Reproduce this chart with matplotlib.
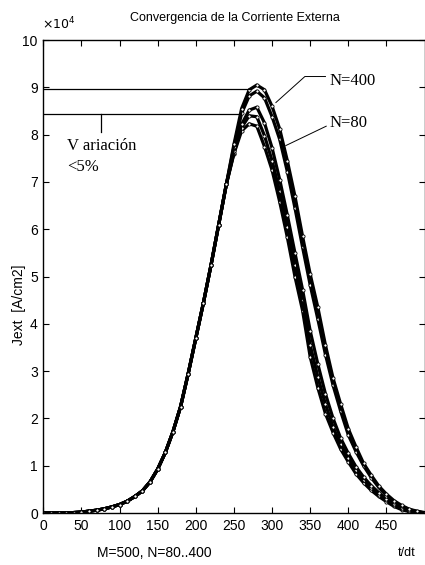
import numpy as np
import matplotlib
matplotlib.use('Agg')
import matplotlib.pyplot as plt
from matplotlib import font_manager

names = {f.name for f in font_manager.fontManager.ttflist}
narrow = 'Liberation Sans Narrow' if 'Liberation Sans Narrow' in names else 'Liberation Sans'

# time steps (t/dt)
t_left = np.arange(0, 250, 10)
t_right = np.arange(250, 510, 10)

# rising part, common to all runs (x 1e4 A/cm2)
j_left = [0.0, 0.0, 0.0, 0.0, 0.01, 0.02, 0.04, 0.06, 0.09, 0.13,
          0.18, 0.25, 0.35, 0.47, 0.66, 0.93, 1.28, 1.72, 2.25, 2.95,
          3.70, 4.45, 5.25, 6.10, 6.95]

# peak and falling part for each N
j_n80 = [7.60, 8.08, 8.23, 8.18, 7.75, 7.25, 6.58, 5.83, 5.00, 4.28,
         3.30, 2.65, 2.10, 1.70, 1.35, 1.08, 0.83, 0.64, 0.48, 0.35,
         0.24, 0.14, 0.07, 0.03, 0.01, 0.0]
j_n160 = [7.62, 8.15, 8.40, 8.38, 7.98, 7.45, 6.80, 6.05, 5.25, 4.50,
          3.55, 2.88, 2.30, 1.82, 1.45, 1.16, 0.90, 0.70, 0.53, 0.39,
          0.27, 0.17, 0.09, 0.04, 0.01, 0.0]
j_n240 = [7.65, 8.22, 8.52, 8.58, 8.25, 7.72, 7.05, 6.30, 5.50, 4.72,
          3.85, 3.15, 2.52, 2.00, 1.58, 1.26, 0.98, 0.76, 0.58, 0.43,
          0.30, 0.19, 0.11, 0.05, 0.02, 0.0]
j_n320 = [7.75, 8.45, 8.82, 8.92, 8.78, 8.38, 7.90, 7.22, 6.45, 5.62,
          4.82, 4.10, 3.35, 2.70, 2.15, 1.65, 1.30, 1.00, 0.75, 0.54,
          0.37, 0.24, 0.14, 0.07, 0.03, 0.0]
j_n400 = [7.80, 8.55, 8.95, 9.05, 8.95, 8.60, 8.12, 7.45, 6.70, 5.85,
          5.05, 4.35, 3.55, 2.85, 2.30, 1.78, 1.40, 1.05, 0.80, 0.57,
          0.40, 0.26, 0.16, 0.08, 0.04, 0.01]

runs = [j_n80, j_n160, j_n240, j_n320, j_n400]

# annotation values
peak_hi = 8.96
peak_lo = 8.43

fig = plt.figure(figsize=(4.25, 5.65), dpi=100)
ax = fig.add_axes([0.102, 0.092, 0.897, 0.837])

t_all = np.concatenate([t_left, t_right])
for run in runs:
    ax.plot(t_all, j_left + run, '-o', color='black', lw=2.3, ms=2.3,
            mfc='white', mec='black', mew=0.6)

# variation markers
ax.plot([0, 273], [peak_hi, peak_hi], color='black', lw=0.9)
ax.plot([0, 258], [peak_lo, peak_lo], color='black', lw=0.9)
ax.plot([75, 75], [peak_lo, 8.05], color='black', lw=0.9)
ax.text(31, 7.76, 'V ariación', fontsize=12, family='Liberation Serif', va='center')
ax.text(31, 7.31, '<5%', fontsize=12, family='Liberation Serif', va='center')

# leaders
ax.plot([305, 343, 370], [8.68, 9.23, 9.23], color='black', lw=0.7)
ax.plot([318, 371], [7.77, 8.18], color='black', lw=0.7)
ax.text(375, 9.14, 'N=400', fontsize=12, family='Liberation Serif', va='center')
ax.text(375, 8.24, 'N=80', fontsize=12, family='Liberation Serif', va='center')

ax.set_xlim(0, 500)
ax.set_ylim(0, 10)
ax.set_xticks(np.arange(0, 500, 50))
ax.set_yticks(np.arange(0, 11, 1))
ax.tick_params(direction='in', length=4, width=0.8, top=True, right=True,
               labelsize=10, pad=4)
for lab in ax.get_xticklabels() + ax.get_yticklabels():
    lab.set_family(narrow)
for s in ax.spines.values():
    s.set_linewidth(1.0)

fig.text(0.552, 0.968, 'Convergencia de la Corriente Externa', ha='center',
         va='center', fontsize=9, family=narrow)
fig.text(0.098, 0.958, r'$\times10^{4}$', ha='left', va='center', fontsize=9)
fig.text(0.045, 0.46, 'Jext  [A/cm2]', rotation=90, ha='center', va='center',
         fontsize=10, family='Liberation Sans')
fig.text(0.228, 0.022, 'M=500, N=80..400', ha='left', va='center', fontsize=10,
         family='Liberation Sans')
fig.text(0.937, 0.022, 't/dt', ha='left', va='center', fontsize=9, family=narrow)

plt.savefig('out.png', dpi=100)
